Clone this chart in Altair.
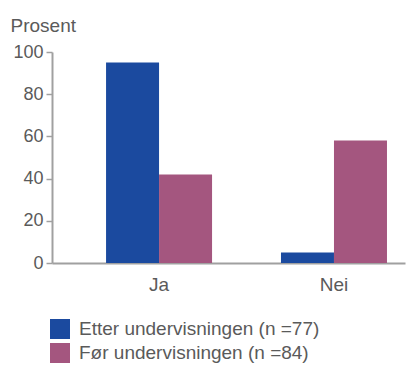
import altair as alt
import pandas as pd

categories = ["Ja", "Nei"]
series = ["Etter undervisningen (n =77)", "Før undervisningen (n =84)"]
etter_values = [95, 5]
for_values = [42, 58]
colors = ["#1b4a9f", "#a4567f"]
y_ticks = [0, 20, 40, 60, 80, 100]

rows = []
for c, v in zip(categories, etter_values):
    rows.append({"svar": c, "gruppe": series[0], "prosent": v})
for c, v in zip(categories, for_values):
    rows.append({"svar": c, "gruppe": series[1], "prosent": v})
df = pd.DataFrame(rows)

text_color = "#5a5a5a"
axis_color = "#a0a0a0"
font = "Liberation Sans"

chart = alt.Chart(df).mark_bar().encode(
    x=alt.X(
        "svar:N",
        sort=categories,
        scale=alt.Scale(paddingInner=0.394, paddingOuter=0.206, align=0.75),
        axis=alt.Axis(
            title=None, labelAngle=0, ticks=False, labelPadding=12,
            domainColor=axis_color, domainWidth=2,
            labelFontSize=19, labelColor=text_color, labelFont=font,
        ),
    ),
    xOffset=alt.XOffset("gruppe:N", sort=series,
                        scale=alt.Scale(paddingInner=0, paddingOuter=0)),
    y=alt.Y(
        "prosent:Q",
        scale=alt.Scale(domain=[0, 100], nice=False),
        axis=alt.Axis(
            values=y_ticks, grid=False, title="Prosent", titleAngle=0,
            titleAlign="left", titleBaseline="alphabetic", titleX=-42, titleY=-21,
            titleFontSize=19, titleFontWeight="normal", titleColor=text_color, titleFont=font,
            labelFontSize=18, labelColor=text_color, labelFont=font, labelPadding=3,
            tickSize=6, tickColor=axis_color, tickWidth=1.5,
            domainColor=axis_color, domainWidth=2,
        ),
    ),
    color=alt.Color(
        "gruppe:N", sort=series,
        scale=alt.Scale(domain=series, range=colors),
        legend=alt.Legend(
            title=None, orient="none", legendX=-2, legendY=267, padding=0,
            symbolType="square", symbolSize=400, symbolStrokeWidth=0,
            symbolOpacity=1, labelFontSize=19, labelColor=text_color, labelFont=font,
            rowPadding=4, labelOffset=9, labelLimit=400,
        ),
    ),
).properties(
    width=353, height=211,
    autosize=alt.AutoSizeParams(type="none"),
    padding={"left": 52, "top": 52, "right": 9, "bottom": 106},
).configure_view(stroke=None)

chart.save("out.html", embed_options={"renderer": "svg", "actions": False})
